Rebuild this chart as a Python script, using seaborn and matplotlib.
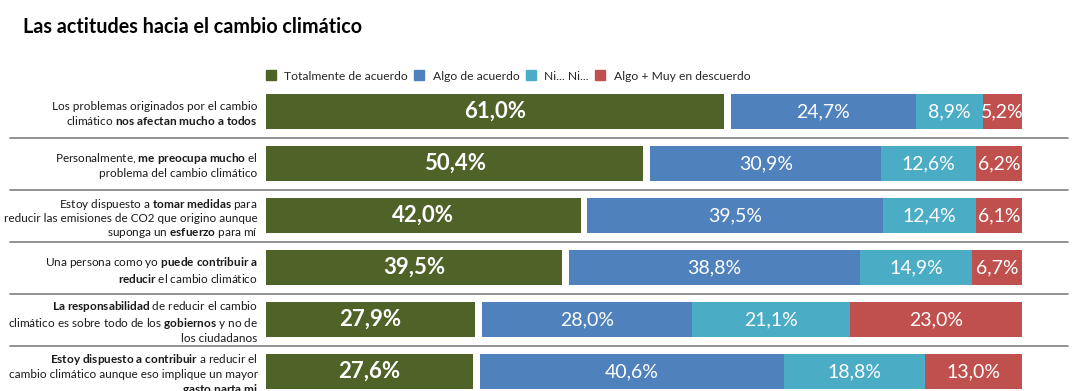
import numpy as np
import pandas as pd
import matplotlib
matplotlib.use("Agg")
import matplotlib.pyplot as plt
import seaborn as sns
from matplotlib.lines import Line2D
from matplotlib.transforms import blended_transform_factory

# ---------------- data ----------------
title = "Las actitudes hacia el cambio climático"
categories = [
    "Los problemas originados por el cambio climático nos afectan mucho a todos",
    "Personalmente, me preocupa mucho el problema del cambio climático",
    "Estoy dispuesto a tomar medidas para reducir las emisiones de CO2 que origino aunque suponga un esfuerzo para mí",
    "Una persona como yo puede contribuir a reducir el cambio climático",
    "La responsabilidad de reducir el cambio climático es sobre todo de los gobiernos y no de los ciudadanos",
    "Estoy dispuesto a contribuir a reducir el cambio climático aunque eso implique un mayor gasto parta mi",
]
# tick labels: lines separated by \n, bold parts between ** **
tick_labels = [
    "Los problemas originados por el cambio\nclimático **nos afectan mucho a todos**",
    "Personalmente, **me preocupa mucho** el\nproblema del cambio climático",
    "Estoy dispuesto a **tomar medidas** para\nreducir las emisiones de CO2 que origino aunque\nsuponga un **esfuerzo** para mí",
    "Una persona como yo **puede contribuir a**\n**reducir** el cambio climático",
    "**La responsabilidad** de reducir el cambio\nclimático es sobre todo de los **gobiernos** y no de\nlos ciudadanos",
    "**Estoy dispuesto a contribuir** a reducir el\ncambio climático aunque eso implique un mayor\n**gasto parta mi**",
]
series = ["Totalmente de acuerdo", "Algo de acuerdo", "Ni... Ni...", "Algo + Muy en descuerdo"]
totalmente = [61.0, 50.4, 42.0, 39.5, 27.9, 27.6]
algo = [24.7, 30.9, 39.5, 38.8, 28.0, 40.6]
ni_ni = [8.9, 12.6, 12.4, 14.9, 21.1, 18.8]
desacuerdo = [5.2, 6.2, 6.1, 6.7, 23.0, 13.0]

colors = ["#4F6228", "#4F81BD", "#4BACC6", "#C0504D"]

# ---------------- style ----------------
sns.set_theme(style="white")
plt.rcParams["font.family"] = ["Lato", "DejaVu Sans"]
plt.rcParams["mathtext.fontset"] = "custom"
plt.rcParams["mathtext.rm"] = "Lato"
plt.rcParams["mathtext.bf"] = "Lato:bold"
plt.rcParams["mathtext.it"] = "Lato:italic"


def to_mathtext(label):
    out_lines = []
    for line in label.split("\n"):
        parts = line.split("**")
        pieces = []
        for k, seg in enumerate(parts):
            if k % 2 == 1:
                seg = " ".join("$\\mathbf{%s}$" % w for w in seg.split(" "))
            pieces.append(seg)
        out_lines.append("".join(pieces))
    return "\n".join(out_lines)


df = pd.DataFrame({
    "cat": categories,
    "tot": totalmente, "algo": algo, "ni": ni_ni, "des": desacuerdo,
})
s = df[["tot", "algo", "ni", "des"]].sum(axis=1)
shares = df[["tot", "algo", "ni", "des"]].div(s, axis=0) * 100
gap = 0.9  # white gap after the first segment

c_green = shares["tot"]
c_white = c_green + gap
c_blue = c_white + shares["algo"]
c_cyan = c_blue + shares["ni"]
c_red = c_cyan + shares["des"]

W, H = 1086, 391
fig = plt.figure(figsize=(W / 100, H / 100), dpi=100)
ax = fig.add_axes([266 / W, (H - 397.5) / H, 802 / W, 312 / H])

layers = [(c_red, colors[3]), (c_cyan, colors[2]), (c_blue, colors[1]),
          (c_white, "white"), (c_green, colors[0])]
for xs, col in layers:
    sns.barplot(x=xs.values, y=df["cat"], orient="h", color=col, width=0.67,
                saturation=1, linewidth=0, ax=ax)

ax.set_xlim(0, (100 + gap) * 802 / 756)
ax.set_ylim(5.5, -0.5)
for sp in ax.spines.values():
    sp.set_visible(False)
ax.set_xlabel("")
ax.set_ylabel("")
ax.tick_params(left=False, bottom=False, labelbottom=False, pad=0)
ax.set_yticks(range(len(categories)))
ax.set_yticklabels([to_mathtext(t) for t in tick_labels], fontsize=8.5,
                   color="#1a1a1a", linespacing=1.2)

fmt = lambda v: ("%.1f" % v).replace(".", ",") + "%"
starts = [np.zeros(len(df)), c_white.values, c_blue.values, c_cyan.values]
widths = [shares["tot"].values, shares["algo"].values, shares["ni"].values, shares["des"].values]
raw = [totalmente, algo, ni_ni, desacuerdo]
for j in range(4):
    for i in range(len(df)):
        ax.text(starts[j][i] + widths[j][i] / 2, i, fmt(raw[j][i]),
                ha="center", va="center", color="white",
                fontsize=16 if j == 0 else 14,
                fontweight="bold" if j == 0 else "normal")

# separators
trans = blended_transform_factory(fig.transFigure, ax.transData)
for k in range(len(df) - 1):
    fig.add_artist(Line2D([10 / W, 1068 / W], [k + 0.5, k + 0.5], transform=trans,
                          color="#8a8a8a", lw=1.3))

# title
fig.text(23 / W, 1 - 27 / H, title, fontsize=14.2, fontweight="bold", va="center",
         color="black")

# legend
handles = [Line2D([], [], marker="s", linestyle="", markersize=7,
                  markerfacecolor=c, markeredgecolor=c) for c in colors]
fig.legend(handles, series, loc="center left", bbox_to_anchor=(266 / W, 1 - 76 / H),
           ncol=4, frameon=False, fontsize=8.7, handlelength=0.8, handletextpad=0.7,
           columnspacing=0.55, borderaxespad=0, borderpad=0)

fig.savefig("out.png", dpi=100, facecolor="white")
